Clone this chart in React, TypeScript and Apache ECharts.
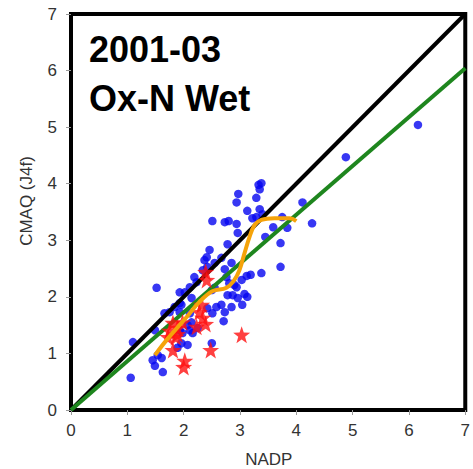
import React, { useEffect, useRef } from "react";
import * as echarts from "echarts";

const xTicks = [0, 1, 2, 3, 4, 5, 6, 7];
const yTicks = [0, 1, 2, 3, 4, 5, 6, 7];

const titleLines = ["2001-03", "Ox-N Wet"];
const xName = "NADP";
const yName = "CMAQ (J4f)";

// blue dots: [NADP, CMAQ]
const bluePoints: [number, number][] = [
  [1.06, 0.57], [1.1, 1.2], [1.49, 0.78], [1.63, 0.67], [1.45, 0.88], [1.54, 0.97],
  [1.61, 0.92], [1.49, 1.41], [1.52, 2.16], [1.66, 1.71], [1.75, 1.73], [1.84, 1.82],
  [1.93, 1.89], [1.89, 1.1], [1.96, 1.18], [2.07, 1.15], [2.5, 1.18], [1.93, 1.41],
  [1.98, 1.36], [2.11, 1.41], [2.16, 1.36], [2.25, 1.45], [2.07, 1.5], [2.14, 1.55],
  [1.93, 2.08], [2.02, 2.08], [2.11, 2.17], [2.23, 2.26], [2.19, 2.35], [2.14, 1.98],
  [1.96, 1.86], [1.93, 1.73], [2.11, 1.71], [2.42, 1.8], [2.51, 1.71], [2.58, 1.82],
  [2.67, 1.86], [2.73, 1.73], [2.71, 1.57], [2.34, 2.47], [2.42, 2.53], [2.55, 2.6],
  [2.67, 2.69], [2.37, 2.65], [2.41, 2.7], [2.46, 2.83], [2.5, 2.12], [2.55, 2.16],
  [2.76, 2.35], [2.81, 2.24], [2.9, 2.21], [2.85, 2.6], [2.87, 2.03], [2.96, 1.98],
  [3.04, 1.86], [3.13, 2.0], [2.78, 2.03], [2.85, 1.82], [3.08, 2.05], [2.78, 2.93],
  [2.96, 3.13], [2.94, 2.17], [3.03, 2.3], [3.12, 2.37], [3.19, 2.39], [3.38, 2.42],
  [3.72, 2.53], [3.72, 2.95], [3.45, 3.06], [2.73, 2.49], [2.51, 3.34], [2.73, 3.32],
  [2.8, 3.34], [2.94, 3.29], [2.97, 3.82], [2.94, 3.67], [3.29, 3.75], [3.33, 3.98],
  [3.38, 4.01], [3.35, 3.9], [3.13, 3.52], [3.35, 3.55], [3.29, 3.41], [3.22, 3.39],
  [3.4, 3.46], [3.59, 3.23], [3.84, 3.22], [3.75, 3.41], [4.11, 3.67], [4.28, 3.3],
  [4.88, 4.47], [6.16, 5.04],
];

// red stars: [NADP, CMAQ]
const redStars: [number, number][] = [
  [2.39, 2.44], [2.41, 2.3], [2.32, 1.86], [2.28, 1.73], [2.34, 1.63], [2.23, 1.47],
  [2.39, 1.52], [1.81, 1.54], [1.89, 1.45], [1.75, 1.4], [1.89, 1.34], [1.72, 1.29],
  [1.86, 1.29], [1.98, 1.55], [3.03, 1.33], [1.81, 1.06], [2.48, 1.06], [2.02, 0.87],
  [2.0, 0.76],
];

// 1:1 line and regression fit line endpoints
const oneToOne: [number, number][] = [[0, 0], [7, 7]];
const fitLine: [number, number][] = [[0, 0], [7, 6.04]];

// smoothed (loess-like) curve
const smoothCurve: [number, number][] = [
  [1.49, 0.97], [1.7, 1.24], [2.05, 1.64], [2.28, 1.91], [2.51, 2.1], [2.76, 2.16],
  [2.9, 2.3], [2.99, 2.47], [3.08, 2.77], [3.17, 3.06], [3.26, 3.27], [3.38, 3.36],
  [3.61, 3.39], [3.88, 3.39], [4.0, 3.34],
];

const STAR =
  "path://M50 0 L61.76 33.82 L97.55 34.55 L69.02 56.18 L79.39 90.45 L50 70 L20.61 90.45 L30.98 56.18 L2.45 34.55 L38.24 33.82 Z";

const FONT = "'Liberation Sans', Arial, Helvetica, sans-serif";

export default function App() {
  const ref = useRef<HTMLDivElement>(null);
  useEffect(() => {
    if (!ref.current) return;
    const chart = echarts.init(ref.current, undefined, { renderer: "svg" });
    chart.setOption({
      animation: false,
      backgroundColor: "#ffffff",
      grid: {
        left: 71,
        top: 14,
        right: 6.5,
        bottom: 59,
        show: true,
        borderColor: "#000",
        borderWidth: 4,
        backgroundColor: "transparent",
      },
      xAxis: {
        type: "value",
        min: xTicks[0],
        max: xTicks[xTicks.length - 1],
        interval: 1,
        axisLine: { show: false },
        splitLine: { show: false },
        axisTick: { show: true, length: 5, lineStyle: { color: "#999", width: 1 } },
        axisLabel: { color: "#333", fontSize: 17, fontFamily: FONT, margin: 12 },
      },
      yAxis: {
        type: "value",
        min: yTicks[0],
        max: yTicks[yTicks.length - 1],
        interval: 1,
        axisLine: { show: false },
        splitLine: { show: false },
        axisTick: { show: true, length: 5, lineStyle: { color: "#999", width: 1 } },
        axisLabel: { color: "#333", fontSize: 17, fontFamily: FONT, margin: 14 },
      },
      graphic: [
        {
          type: "text",
          left: 89,
          top: 25,
          z: 100,
          style: {
            text: titleLines.join("\n"),
            font: `bold 36px ${FONT}`,
            fill: "#000",
            lineHeight: 49,
          },
        },
        {
          type: "text",
          x: 268.75,
          y: 459,
          style: {
            text: xName,
            font: `17px ${FONT}`,
            fill: "#333",
            align: "center",
            verticalAlign: "middle",
          },
        },
        {
          type: "text",
          x: 26,
          y: 201,
          rotation: Math.PI / 2,
          style: {
            text: yName,
            font: `17px ${FONT}`,
            fill: "#333",
            align: "center",
            verticalAlign: "middle",
          },
        },
      ],
      series: [
        {
          type: "scatter",
          data: bluePoints,
          symbol: "circle",
          symbolSize: 8.5,
          itemStyle: { color: "#0505f0" },
          z: 2,
        },
        {
          type: "line",
          data: oneToOne,
          symbol: "none",
          lineStyle: { color: "#000", width: 4 },
          z: 3,
        },
        {
          type: "line",
          data: fitLine,
          symbol: "none",
          lineStyle: { color: "#1e861e", width: 4 },
          z: 4,
        },
        {
          type: "scatter",
          data: redStars,
          symbol: STAR,
          symbolSize: 17,
          itemStyle: { color: "#ff1010" },
          z: 5,
        },
        {
          type: "line",
          data: smoothCurve,
          symbol: "none",
          smooth: 0.4,
          lineStyle: { color: "#f5a30a", width: 4 },
          z: 6,
        },
      ],
    });
    return () => chart.dispose();
  }, []);
  return (
    <div
      ref={ref}
      style={{ position: "absolute", left: 0, top: 0, width: 473, height: 469 }}
    />
  );
}
